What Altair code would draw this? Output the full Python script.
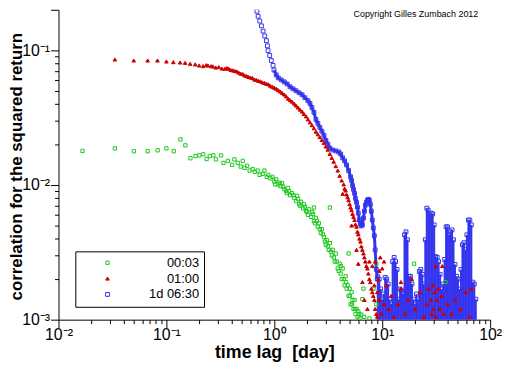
import altair as alt
import pandas as pd

# ---------------- data ----------------
series_names = ["00:03", "01:00", "1d 06:30"]
series_colors = ["#1ec81e", "#cc0000", "#3434ee"]
series_shapes = ["square", "triangle-up", "square"]
series_fills = ["transparent", "#cc0000", "transparent"]
series_sizes = [11, 15, 11]

green_x = [0.0167, 0.0333, 0.050, 0.067, 0.083, 0.100, 0.117, 0.135, 0.150, 0.167,
           0.186, 0.202, 0.220, 0.236, 0.252, 0.272, 0.288, 0.321, 0.338, 0.371,
           0.406, 0.427, 0.458, 0.488, 0.51, 0.53, 0.56, 0.59, 0.63, 0.66,
           0.70, 0.73, 0.78, 0.81, 0.85, 0.88, 0.92, 0.96, 1.00, 1.04,
           1.09, 1.14, 1.18, 1.24, 1.29, 1.34, 1.40, 1.46, 1.53, 1.59,
           1.63, 1.70, 1.77, 1.85, 1.92, 2.01, 2.10, 2.19, 2.28, 2.33,
           2.43, 2.53, 2.59, 2.70, 2.76, 2.88, 2.94, 3.06, 3.13, 3.27,
           3.34, 3.48, 3.56, 3.71, 3.79, 3.87, 4.03, 4.12, 4.21, 4.30,
           4.48, 4.58, 4.68, 4.78, 4.88, 4.99, 5.09, 5.20, 5.31, 5.42,
           5.54, 5.65, 5.78, 5.90, 6.0, 6.15, 6.4, 6.55, 6.8,
           2.33, 3.27, 4.88, 6.7, 7.6, 8.8, 8.3, 8.8, 19.7, 38.6,
           1.02, 1.12, 1.21, 1.31, 1.37, 1.50, 1.66, 1.74, 1.88, 1.97,
           2.05, 2.24, 2.38, 2.48, 2.64, 2.82, 3.00, 3.20, 3.41, 3.63,
           3.95, 4.15, 4.40, 4.62, 5.02, 5.25, 5.6, 6.1]
green_y = [0.0179, 0.0187, 0.0178, 0.0178, 0.0181, 0.0187, 0.0178, 0.0218, 0.0197, 0.0158,
           0.0164, 0.0166, 0.0169, 0.0156, 0.0164, 0.0166, 0.0155, 0.0166, 0.0146, 0.0151,
           0.0141, 0.0155, 0.0146, 0.0137, 0.0151, 0.0134, 0.0139, 0.0128, 0.0131, 0.0125,
           0.0128, 0.0119, 0.0121, 0.0128, 0.0115, 0.0119, 0.0112, 0.0115, 0.0106, 0.0110,
           0.0101, 0.0098, 0.0103, 0.0093, 0.0090, 0.0095, 0.0084, 0.0087, 0.0080, 0.0076,
           0.0083, 0.0072, 0.0075, 0.0067, 0.0069, 0.0063, 0.0066, 0.0058, 0.0061, 0.0054,
           0.0057, 0.0049, 0.0052, 0.0044, 0.0047, 0.0041, 0.0038, 0.0039, 0.0035, 0.0037,
           0.0032, 0.0033, 0.0029, 0.0031, 0.0027, 0.0024, 0.0026, 0.0022, 0.0020, 0.0024,
           0.0018, 0.0021, 0.0017, 0.0018, 0.0015, 0.0017, 0.0013, 0.0016, 0.0014, 0.0012,
           0.0014, 0.0011, 0.0012, 0.00105, 0.00115, 0.00102, 0.00109, 0.00142, 0.00105,
           0.0068, 0.0068, 0.0031, 0.0017, 0.00102, 0.0013, 0.0017, 0.0026, 0.0026, 0.0019,
           0.0101, 0.0104, 0.0097, 0.0087, 0.0090, 0.0084, 0.0079, 0.0070, 0.0072, 0.0064,
           0.0060, 0.0063, 0.0052, 0.0054, 0.0047, 0.0043, 0.0036, 0.0033, 0.0030, 0.0027,
           0.0023, 0.0025, 0.0020, 0.0019, 0.0015, 0.0013, 0.0012, 0.0011]

red_x = [0.0333, 0.0498, 0.067, 0.0827, 0.100, 0.116, 0.134, 0.149, 0.166, 0.185,
         0.201, 0.219, 0.234, 0.243, 0.26, 0.27, 0.287, 0.306, 0.327, 0.348,
         0.363, 0.378, 0.395, 0.412, 0.43, 0.448, 0.467, 0.488, 0.51, 0.53,
         0.554, 0.577, 0.602, 0.628, 0.655, 0.684, 0.713, 0.744, 0.776, 0.81,
         0.845, 0.88, 0.919, 0.958, 1.0, 1.043, 1.088, 1.135, 1.184, 1.235,
         1.288, 1.344, 1.40, 1.46, 1.53, 1.59, 1.66, 1.73, 1.81, 1.88,
         1.97, 2.05, 2.14, 2.23, 2.33, 2.43, 2.53, 2.64, 2.76, 2.88,
         3.0, 3.13, 3.27, 3.41, 3.55, 3.71, 3.87, 4.03, 4.21, 4.39,
         4.48, 4.58, 4.67, 4.78, 4.88, 4.99, 5.09, 5.20, 5.31, 5.42,
         5.54, 5.65, 5.78, 5.90, 6.0, 6.15, 6.29, 6.4, 6.55, 6.7,
         6.84, 6.98, 7.13, 7.29, 7.44, 7.6, 7.76, 7.93, 8.09, 8.27,
         8.45, 8.6, 8.81, 9.0,
         4.30, 5.20, 5.78, 6.0, 6.55, 6.84, 7.29, 7.6, 8.09, 8.45,
         9.0, 9.38, 9.8, 10.4, 10.9, 11.4, 12.1, 12.9, 14.0, 14.9,
         16.2, 17.3, 18.8, 20.2, 22.3, 24.3, 25.9, 27.0, 28.1, 28.8,
         29.4, 30.0, 30.7, 31.3, 32.0, 32.6, 34.0, 35.5, 37.0, 40.3,
         43.9, 47.7, 53.1, 59.0, 64.2, 9.4, 14.9, 31.3, 36.0, 67.0,
         9.59, 10.0, 10.4, 9.18, 8.6]
red_y = [0.0855, 0.084, 0.084, 0.084, 0.0826, 0.0817, 0.0812, 0.0807, 0.0794, 0.0786,
         0.0772, 0.0763, 0.0776, 0.0772, 0.0763, 0.0759, 0.0745, 0.0751, 0.0732, 0.073,
         0.0739, 0.073, 0.0714, 0.071, 0.0702, 0.0698, 0.0684, 0.0671, 0.0667, 0.0651,
         0.0645, 0.0634, 0.0628, 0.0623, 0.0607, 0.0602, 0.0593, 0.0588, 0.0578, 0.0573,
         0.0564, 0.0559, 0.0545, 0.0536, 0.0527, 0.0518, 0.0506, 0.0494, 0.0482, 0.0470,
         0.0455, 0.0438, 0.0427, 0.0416, 0.0402, 0.0389, 0.0376, 0.0363, 0.0351, 0.0337,
         0.0323, 0.0307, 0.0292, 0.0278, 0.0264, 0.0249, 0.0238, 0.0227, 0.0216, 0.0205,
         0.0193, 0.0183, 0.0170, 0.0159, 0.0149, 0.0138, 0.0128, 0.0117, 0.0108, 0.0101,
         0.0094, 0.0091, 0.0085, 0.0081, 0.0077, 0.0072, 0.0068, 0.0065, 0.0061, 0.0058,
         0.0055, 0.0051, 0.0049, 0.0045, 0.0043, 0.0040, 0.0038, 0.0035, 0.0033, 0.0031,
         0.0029, 0.0027, 0.0025, 0.0024, 0.0022, 0.0020, 0.0019, 0.0017, 0.0016, 0.0015,
         0.0014, 0.0012, 0.0011, 0.00105,
         0.0086, 0.0050, 0.0033, 0.0026, 0.0019, 0.0014, 0.0012, 0.0027, 0.0025, 0.0018,
         0.0016, 0.0014, 0.0011, 0.0013, 0.0018, 0.0012, 0.0015, 0.00105, 0.0013, 0.0017,
         0.0011, 0.0014, 0.0020, 0.0012, 0.0016, 0.00105, 0.0013, 0.0017, 0.0014, 0.0011,
         0.0018, 0.0012, 0.0016, 0.00105, 0.0014, 0.0017, 0.0012, 0.0015, 0.0011, 0.0013,
         0.0011, 0.0014, 0.0012, 0.0016, 0.00105, 0.0023, 0.0019, 0.0025, 0.0025, 0.0017,
         0.0029, 0.0024, 0.0027, 0.0020, 0.0027]

blue_head_x = [0.690, 0.708, 0.733, 0.760, 0.787, 0.815, 0.845, 0.863, 0.875, 0.906, 0.938, 0.973]
blue_head_y = [0.195, 0.179, 0.165, 0.152, 0.139, 0.128, 0.118, 0.108, 0.0995, 0.0915, 0.084, 0.0773]

blue_x = [0.993, 1.043, 1.088, 1.16, 1.235, 1.316, 1.40, 1.49, 1.59, 1.696,
          1.81, 1.92, 2.05, 2.14, 2.23, 2.33, 2.43, 2.53, 2.64, 2.76,
          2.88, 3.0, 3.13, 3.27, 3.48, 3.71, 3.95, 4.12, 4.30, 4.48,
          4.67, 4.88, 5.09, 5.2, 5.31, 5.42, 5.54, 5.65, 5.78, 5.90,
          6.0, 6.15, 6.29, 6.4, 6.55, 6.7, 6.84, 6.98, 7.13, 7.29,
          7.44, 7.6, 7.76, 7.93, 8.09, 8.27, 8.45, 8.6, 8.81, 9.0]
blue_y = [0.0714, 0.0656, 0.0624, 0.0603, 0.0583, 0.0563, 0.0536, 0.0518, 0.0501, 0.0484,
          0.0468, 0.0445, 0.0423, 0.0404, 0.0376, 0.0346, 0.0307, 0.0287, 0.0268, 0.0251,
          0.0234, 0.0215, 0.0201, 0.0188, 0.0182, 0.0179, 0.0176, 0.0170, 0.0159, 0.0151,
          0.0141, 0.0128, 0.0115, 0.0108, 0.00992, 0.00927, 0.00866, 0.00796, 0.00744, 0.00684,
          0.00618, 0.00549, 0.00514, 0.00497, 0.00505, 0.00568, 0.00639, 0.00708, 0.00744, 0.0077,
          0.00783, 0.0077, 0.0072, 0.00639, 0.00549, 0.0048, 0.0042, 0.0033, 0.00236, 0.0020]

tail_x = [9.09, 9.39, 9.69, 10.0, 10.32, 10.65, 11.0, 11.35, 11.72, 12.09,
          12.48, 12.89, 13.30, 13.73, 14.17, 14.63, 15.10, 15.59, 16.09, 16.61,
          17.14, 17.69, 18.26, 18.85, 19.45, 20.08, 20.72, 21.39, 22.08, 22.79,
          23.52, 24.28, 25.06, 25.87, 26.70, 27.56, 28.45, 29.36, 30.31, 31.28,
          32.29, 33.33, 34.40, 35.51, 36.65, 37.84, 39.06, 40.31, 41.61, 42.95,
          44.34, 45.77, 47.24, 48.76, 50.33, 51.95, 53.63, 55.36, 57.14, 58.98,
          60.88, 62.85, 64.87, 66.96, 69.12, 71.35, 73.65]
tail_top = [0.0021, 0.0020, 0.00169, 0.00142, 0.00155, 0.00206, 0.0020, 0.00184, 0.00142, 0.00131,
            0.0027, 0.0029, 0.0027, 0.00236, 0.00142, 0.00169, 0.00164, 0.00155, 0.00427, 0.00449,
            0.00392, 0.0021, 0.0021, 0.00184, 0.00142, 0.00131, 0.00155, 0.00142, 0.00228, 0.00236,
            0.00217, 0.00184, 0.00392, 0.00673, 0.0065, 0.00598, 0.00618, 0.0061, 0.00505, 0.00294,
            0.0029, 0.0027, 0.00217, 0.00169, 0.00184, 0.0028, 0.00489, 0.00489, 0.00427, 0.00449,
            0.00464, 0.00392, 0.00257, 0.0021, 0.0020, 0.00169, 0.00236, 0.0036, 0.00373, 0.00331,
            0.00427, 0.00549, 0.00549, 0.00505, 0.0019, 0.00184, 0.00142]
tail_bottom = [0.0009] * len(tail_x)

copyright_text = "Copyright Gilles Zumbach 2012"

x_major = [0.01, 0.1, 1, 10, 100]
x_major_labels = ["10⁻²", "10⁻¹", "10⁰", "10¹", "10²"]
y_major = [0.001, 0.01, 0.1]
y_major_labels = ["10⁻³", "10⁻²", "10⁻¹"]
minor_mult = [2, 3, 4, 5, 6, 7, 8, 9]
y_top = 0.2

# ---------------- build tables ----------------
rows = []
for x, y in zip(blue_head_x, blue_head_y):
    rows.append((series_names[2], x, y))
for x, y in zip(blue_x, blue_y):
    rows.append((series_names[2], x, y))
for x, y in zip(tail_x, tail_top):
    rows.append((series_names[2], x, y))
for x, y in zip(green_x, green_y):
    rows.append((series_names[0], x, y))
for x, y in zip(red_x, red_y):
    rows.append((series_names[1], x, y))
pts = pd.DataFrame(rows, columns=["series", "lag", "corr"])
body = pd.DataFrame({"lag": blue_x, "corr": blue_y})
tail = pd.DataFrame({"lag": tail_x, "corr": tail_top, "corr2": tail_bottom})

x_ticks = sorted(x_major + [round(m * p, 6) for p in x_major[:-1] for m in minor_mult])
y_ticks = sorted(y_major + [round(m * p, 6) for p in y_major[:-1] for m in minor_mult] + [y_top])


def lab_expr(vals, labs):
    e = "''"
    for v, l in zip(vals, labs):
        e = f"datum.value == {v} ? '{l}' : ({e})"
    return e


FONT = "Liberation Sans"
x_tick_size = {"condition": {"test": f"indexof({x_major}, datum.value) >= 0", "value": 8}, "value": 4}
y_tick_size = {"condition": {"test": f"indexof({y_major + [y_top]}, datum.value) >= 0", "value": 8}, "value": 4}

xaxis = alt.Axis(values=x_ticks, labelExpr=lab_expr(x_major, x_major_labels), tickSize=x_tick_size,
                 tickColor="black", domainColor="black", labelColor="black", labelFont=FONT,
                 labelFontSize=16, labelPadding=12, labelBaseline="alphabetic",
                 labelFlush=False, labelOverlap=False,
                 title="time lag\u00a0 [day]", titleFont=FONT, titleFontSize=18,
                 titleFontWeight="bold", titleColor="black", titleBaseline="alphabetic",
                 titleY=38, grid=False)
yaxis = alt.Axis(values=y_ticks, labelExpr=lab_expr(y_major, y_major_labels), tickSize=y_tick_size,
                 tickColor="black", domainColor="black", labelColor="black", labelFont=FONT,
                 labelFontSize=16, labelPadding=1, labelFlush=False, labelOverlap=False,
                 title="correlation for the squared return", titleFont=FONT, titleFontSize=17,
                 titleFontWeight="bold", titleColor="black", titleAngle=270,
                 titleBaseline="alphabetic", titleAlign="center", titleX=-37, titleY=158, grid=False)

xs = alt.Scale(type="log", domain=[0.01, 100], nice=False)
ys = alt.Scale(type="log", domain=[0.001, y_top], nice=False)
X = alt.X("lag:Q", scale=xs, axis=xaxis)
Y = alt.Y("corr:Q", scale=ys, axis=yaxis)

legend = alt.Legend(title=None, orient="none", legendX=17, legendY=244, strokeColor="black",
                    fillColor="white", padding=5, labelFont=FONT, labelFontSize=13,
                    labelColor="black", labelAlign="right", labelOffset=86, symbolOffset=21,
                    symbolSize=12, symbolStrokeWidth=1, rowPadding=2)

tail_layer = alt.Chart(tail).mark_rule(color=series_colors[2], strokeWidth=2, clip=True).encode(
    x=X, y=Y, y2="corr2:Q")
body_layer = alt.Chart(body).mark_line(color=series_colors[2], strokeWidth=3, clip=True).encode(
    x=X, y=Y)
points_layer = alt.Chart(pts).mark_point(filled=False, strokeWidth=1, opacity=1, clip=True).encode(
    x=X, y=Y,
    color=alt.Color("series:N", scale=alt.Scale(domain=series_names, range=series_colors), legend=legend),
    shape=alt.Shape("series:N", scale=alt.Scale(domain=series_names, range=series_shapes), legend=legend),
    fill=alt.Fill("series:N", scale=alt.Scale(domain=series_names, range=series_fills), legend=legend),
    size=alt.Size("series:N", scale=alt.Scale(domain=series_names, range=series_sizes), legend=None),
)
copy_layer = alt.Chart(pd.DataFrame({"t": [copyright_text]})).mark_text(
    font=FONT, fontSize=9, align="center", baseline="top", color="black").encode(
    text="t:N", x=alt.value(361), y=alt.value(0))

chart = alt.layer(tail_layer, body_layer, points_layer, copy_layer).properties(
    width=436, height=313, autosize=alt.AutoSizeParams(type="none"),
    padding={"left": 51, "top": 0, "right": 14, "bottom": 45},
).configure_view(strokeWidth=0)

chart.save("out.html", embed_options={"renderer": "svg", "actions": False})
